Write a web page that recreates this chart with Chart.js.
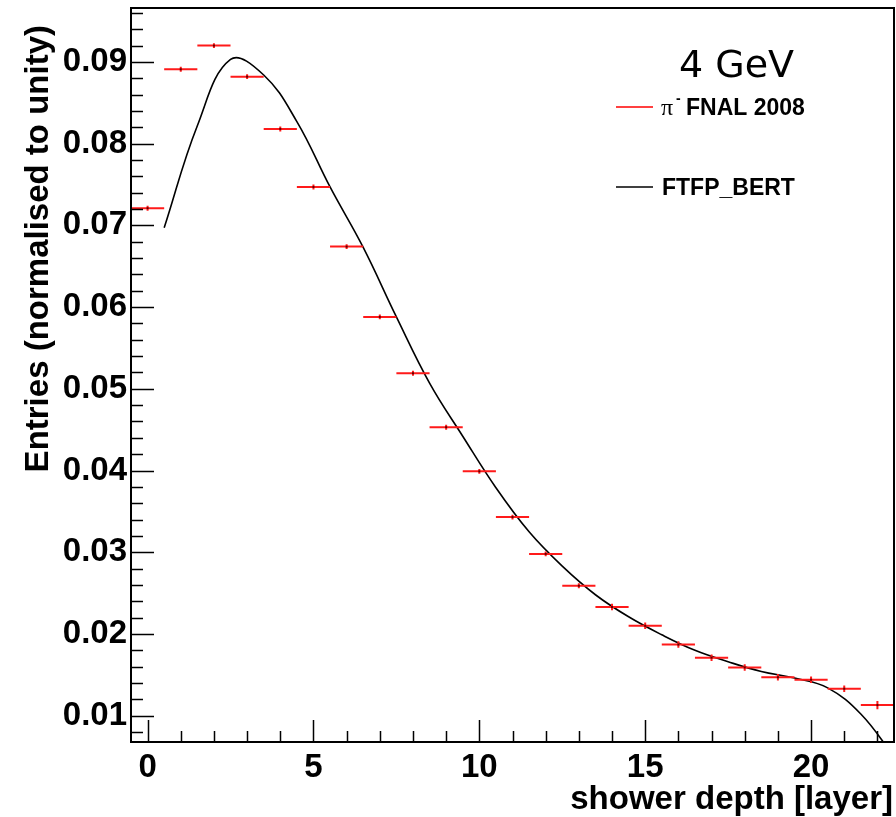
<!DOCTYPE html>
<html>
<head>
<meta charset="utf-8">
<title>Longitudinal shower profile, 4 GeV</title>
<script src="https://cdn.jsdelivr.net/npm/chart.js@4.4.1/dist/chart.umd.min.js"></script>
<style>
  html, body { margin: 0; padding: 0; background: #fff; }
  #wrap { position: relative; width: 896px; height: 817px; }
</style>
</head>
<body>
<div id="wrap"><canvas id="profile"></canvas></div>
<script>
// pi- FNAL 2008 test beam data, one entry per layer
const layers = [0, 1, 2, 3, 4, 5, 6, 7, 8, 9, 10, 11, 12, 13, 14, 15, 16, 17, 18, 19, 20, 21, 22];
const dataValues = [0.0721, 0.0891, 0.0920, 0.0882, 0.0818, 0.0747, 0.0674, 0.0588, 0.0519, 0.0453,
  0.0399, 0.0343, 0.0298, 0.0259, 0.0233, 0.0210, 0.0187, 0.0171, 0.0159, 0.0147, 0.0144, 0.0133, 0.0113];
const dataErrors = [0.0003, 0.0003, 0.0003, 0.0003, 0.0003, 0.0003, 0.0003, 0.0003, 0.0003, 0.0003,
  0.0003, 0.0003, 0.0003, 0.0003, 0.0004, 0.0004, 0.0004, 0.0004, 0.0004, 0.0004, 0.0004, 0.0004, 0.0005];
const halfBin = 0.5;

// FTFP_BERT simulation, bin centres
const simDepth = [0.5, 1.5, 2.5, 3.5, 4.5, 5.5, 6.5, 7.5, 8.5, 9.5, 10.5, 11.5,
  12.5, 13.5, 14.5, 15.5, 16.5, 17.5, 18.5, 19.5, 20.5, 21.5, 22.5];
const simValues = [0.0697, 0.0822, 0.0903, 0.0884, 0.0827, 0.0747, 0.0673, 0.0588, 0.0507, 0.0442, 0.0379, 0.0325,
  0.0283, 0.0248, 0.0221, 0.0199, 0.0180, 0.0166, 0.0154, 0.0146, 0.0134, 0.0102, 0.0050];

const xRange = [-0.5, 22.5];
const yRange = [0.00678, 0.0966];

const sans = "'Liberation Sans', Arial, Helvetica, sans-serif";

// Frame, inward ticks, error bars, titles and legend (ROOT style)
const rootStyle = {
  id: 'rootStyle',
  afterDatasetsDraw(chart) {
    const ctx = chart.ctx;
    const xs = chart.scales.x;
    const ys = chart.scales.y;
    const area = chart.chartArea;

    // data points with error bars
    ctx.save();
    ctx.beginPath();
    ctx.rect(area.left, area.top, area.right - area.left, area.bottom - area.top);
    ctx.clip();
    layers.forEach((x, i) => {
      const py = ys.getPixelForValue(dataValues[i]);
      const px = xs.getPixelForValue(x);
      ctx.strokeStyle = '#ff1a1a';
      ctx.lineWidth = 2;
      ctx.beginPath();
      ctx.moveTo(xs.getPixelForValue(x - halfBin), py);
      ctx.lineTo(xs.getPixelForValue(x + halfBin), py);
      ctx.moveTo(px, ys.getPixelForValue(dataValues[i] - dataErrors[i]));
      ctx.lineTo(px, ys.getPixelForValue(dataValues[i] + dataErrors[i]));
      ctx.stroke();
      ctx.fillStyle = '#600000';
      ctx.fillRect(px - 1, py - 1, 2, 2);
    });
    ctx.restore();
  },
  afterDraw(chart) {
    const ctx = chart.ctx;
    const xs = chart.scales.x;
    const ys = chart.scales.y;
    const area = chart.chartArea;

    ctx.save();
    ctx.strokeStyle = '#000';
    ctx.lineWidth = 2;
    ctx.strokeRect(area.left, area.top, area.right - area.left, area.bottom - area.top);

    // x ticks
    ctx.lineWidth = 1.5;
    ctx.beginPath();
    for (let v = Math.ceil(xs.min); v <= xs.max; v++) {
      const px = Math.round(xs.getPixelForValue(v)) + 0.5;
      const len = v % 5 === 0 ? 22 : 11;
      ctx.moveTo(px, area.bottom);
      ctx.lineTo(px, area.bottom - len);
    }
    // y ticks
    for (let k = Math.ceil(ys.min / 0.002); k * 0.002 <= ys.max; k++) {
      const py = Math.round(ys.getPixelForValue(k * 0.002)) + 0.5;
      const len = k % 5 === 0 ? 23 : 12;
      ctx.moveTo(area.left, py);
      ctx.lineTo(area.left + len, py);
    }
    ctx.stroke();

    // axis titles
    ctx.fillStyle = '#000';
    ctx.font = 'bold 33px ' + sans;
    ctx.textAlign = 'right';
    ctx.textBaseline = 'alphabetic';
    ctx.fillText('shower depth [layer]', 893, 809);

    ctx.save();
    ctx.translate(48, 25);
    ctx.rotate(-Math.PI / 2);
    ctx.textAlign = 'right';
    ctx.fillText('Entries (normalised to unity)', 0, 0);
    ctx.restore();

    // energy label
    ctx.textAlign = 'left';
    ctx.font = '38px "DejaVu Sans", sans-serif';
    ctx.fillText('4 GeV', 679, 77);

    // legend
    ctx.lineWidth = 1.5;
    ctx.strokeStyle = '#ff0000';
    ctx.beginPath();
    ctx.moveTo(616, 107);
    ctx.lineTo(653, 107);
    ctx.stroke();
    ctx.font = '24px "Liberation Serif", "Times New Roman", serif';
    ctx.fillText('\u03c0', 661, 115);
    ctx.font = 'bold 14px ' + sans;
    ctx.fillText('-', 676, 103);
    ctx.font = 'bold 23px ' + sans;
    ctx.fillText('FNAL 2008', 686, 115);

    ctx.strokeStyle = '#000';
    ctx.beginPath();
    ctx.moveTo(616, 187);
    ctx.lineTo(653, 187);
    ctx.stroke();
    ctx.fillText('FTFP_BERT', 662, 195);
    ctx.restore();
  }
};

Chart.defaults.font.family = sans;
Chart.defaults.font.weight = 'bold';
Chart.defaults.color = '#000';

const ctx = document.getElementById('profile').getContext('2d');
new Chart(ctx, {
  type: 'line',
  data: {
    datasets: [{
      label: 'FTFP_BERT',
      data: simDepth.map((x, i) => ({ x: x, y: simValues[i] })),
      borderColor: '#000',
      borderWidth: 1.6,
      pointRadius: 0,
      tension: 0.4,
      fill: false
    }]
  },
  options: {
    responsive: true,
    maintainAspectRatio: false,
    animation: false,
    layout: { padding: { top: 8, right: 2, left: 0, bottom: 0 } },
    plugins: {
      legend: { display: false },
      tooltip: { enabled: false }
    },
    scales: {
      x: {
        type: 'linear',
        min: xRange[0],
        max: xRange[1],
        afterFit: (scale) => {
          scale.height = 75;
          scale.paddingLeft = 0;
          scale.paddingRight = 0;
        },
        grid: { display: false, drawTicks: false },
        border: { display: false },
        ticks: {
          stepSize: 5,
          includeBounds: false,
          padding: 6,
          font: { size: 33, weight: 'bold' },
          maxRotation: 0
        }
      },
      y: {
        type: 'linear',
        min: yRange[0],
        max: yRange[1],
        afterFit: (scale) => {
          scale.width = 131;
          scale.paddingTop = 0;
          scale.paddingBottom = 0;
        },
        grid: { display: false, drawTicks: false },
        border: { display: false },
        ticks: {
          stepSize: 0.01,
          includeBounds: false,
          padding: 4,
          font: { size: 33, weight: 'bold' },
          callback: (value) => value.toFixed(2)
        }
      }
    }
  },
  plugins: [rootStyle]
});
</script>
</body>
</html>
